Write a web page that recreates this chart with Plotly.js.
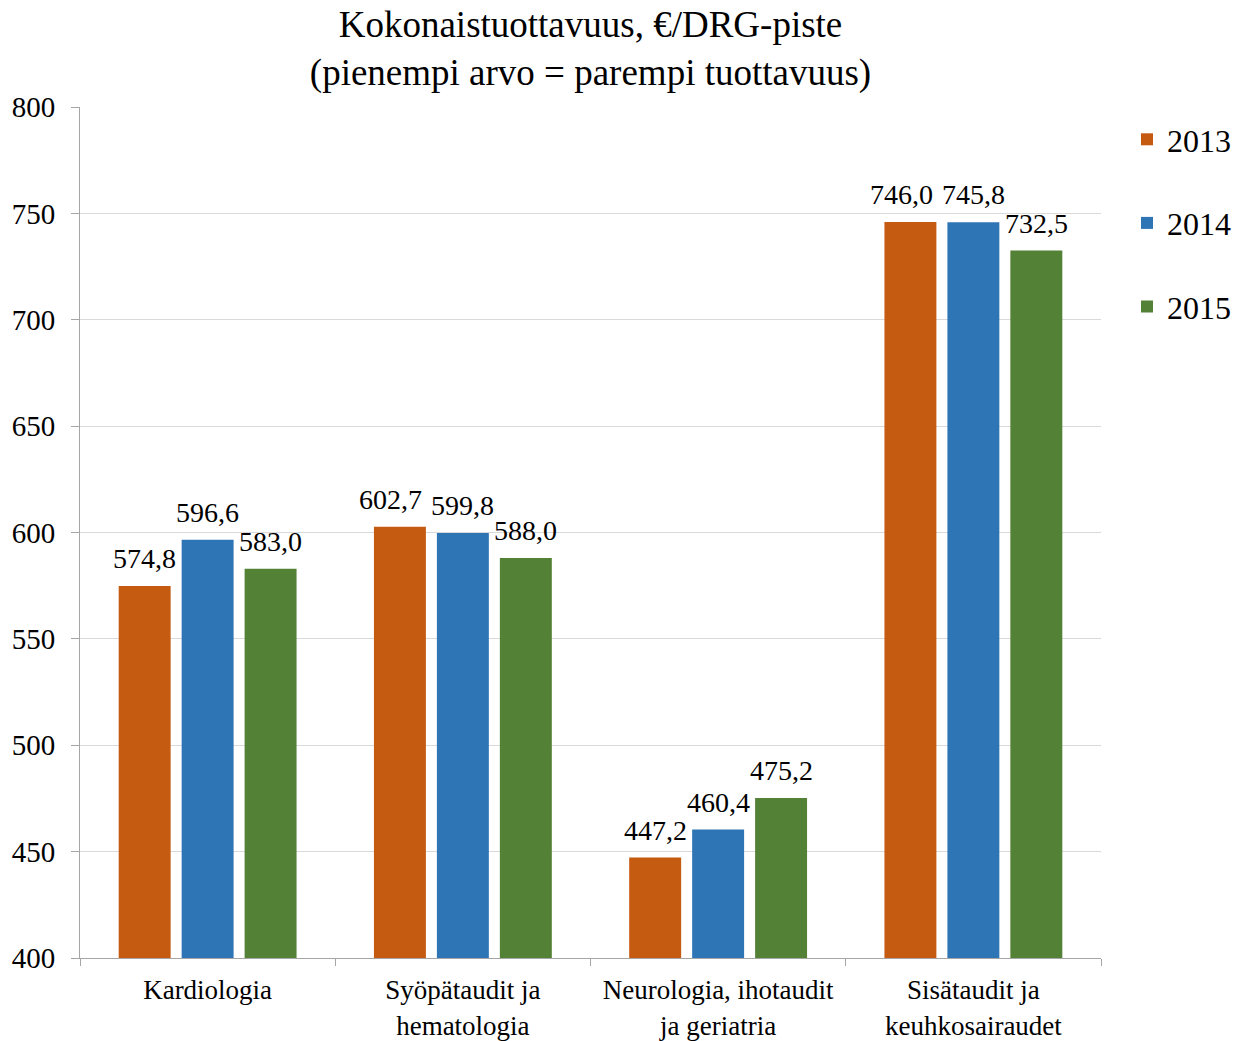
<!DOCTYPE html>
<html>
<head>
<meta charset="utf-8">
<script src="https://cdn.plot.ly/plotly-3.0.1.min.js"></script>
<style>
  html, body { margin: 0; padding: 0; background: #fff; }
  #chart { width: 1234px; height: 1041px; }
</style>
</head>
<body>
<div id="chart"></div>
<script>
// Erikoisalat (x-akselin luokat)
const categories = [
  "Kardiologia",
  "Syöpätaudit ja<br>hematologia",
  "Neurologia, ihotaudit<br>ja geriatria",
  "Sisätaudit ja<br>keuhkosairaudet"
];

// Kokonaistuottavuus, €/DRG-piste vuosittain
const years = ["2013", "2014", "2015"];
const values2013 = [574.8, 602.7, 447.2, 746.0];
const values2014 = [596.6, 599.8, 460.4, 745.8];
const values2015 = [583.0, 588.0, 475.2, 732.5];

const seriesValues = [values2013, values2014, values2015];
const seriesColors = ["#C55A11", "#2E75B6", "#538135"];

const FONT = "'Liberation Serif', 'Times New Roman', serif";
const BARGAP = 0.26;
const GROUPGAP = 0.175;

const traces = years.map((yr, i) => ({
  type: "bar",
  name: yr,
  x: categories,
  y: seriesValues[i],
  legendgroup: yr,
  marker: { color: seriesColors[i], line: { width: 0 } },
  hoverinfo: "x+y+name"
}));

// Arvotunnisteet palkkien yläpuolelle; palkin keskikohta lasketaan ryhmän asettelusta
const fmt = v => v.toFixed(1).replace(".", ",");
const slot = (1 - BARGAP) / years.length;
const annotations = [];
seriesValues.forEach((vals, s) => {
  vals.forEach((v, c) => {
    // siirretään tunnistetta vasemmalle, jos viereinen tunniste on lähes samalla korkeudella
    const next = seriesValues[s + 1];
    const prev = seriesValues[s - 1];
    let shift = 0;
    if (next && Math.abs(next[c] - v) < 6 && !(prev && Math.abs(prev[c] - v) < 6)) shift = -9;
    annotations.push({
      x: c + (s - (years.length - 1) / 2) * slot,
      y: v,
      xref: "x",
      yref: "y",
      text: fmt(v),
      showarrow: false,
      xanchor: "center",
      yanchor: "bottom",
      xshift: shift,
      yshift: 10,
      font: { family: FONT, size: 28, color: "#000" }
    });
  });
});

const layout = {
  width: 1234,
  height: 1041,
  paper_bgcolor: "#fff",
  plot_bgcolor: "#fff",
  font: { family: FONT, color: "#000" },
  margin: { l: 80, r: 133, t: 107, b: 83, pad: 0, autoexpand: false },
  title: {
    text: "Kokonaistuottavuus, €/DRG-piste<br>(pienempi arvo = parempi tuottavuus)",
    font: { family: FONT, size: 37, color: "#000" },
    x: 0.5,
    xanchor: "center",
    xref: "paper",
    yref: "container",
    y: 1 - 37 / 1041,
    yanchor: "middle"
  },
  barmode: "group",
  bargap: BARGAP,
  bargroupgap: GROUPGAP,
  xaxis: {
    type: "category",
    showline: true,
    linecolor: "#a6a6a6",
    linewidth: 1,
    ticks: "outside",
    tickson: "boundaries",
    ticklen: 7,
    tickcolor: "#a6a6a6",
    ticklabelstandoff: 8,
    tickfont: { family: FONT, size: 27, color: "#000" },
    showgrid: false,
    zeroline: false
  },
  yaxis: {
    range: [400, 800],
    dtick: 50,
    tick0: 400,
    showline: true,
    linecolor: "#a6a6a6",
    linewidth: 1,
    ticks: "outside",
    ticklen: 8,
    tickcolor: "#a6a6a6",
    ticklabelstandoff: 10,
    tickfont: { family: FONT, size: 29, color: "#000" },
    showgrid: true,
    gridcolor: "#d9d9d9",
    gridwidth: 1,
    zeroline: false
  },
  annotations: annotations,
  showlegend: true,
  legend: {
    x: (1127 - 80) / 1021,
    xanchor: "left",
    y: 1 - 5 / 851,
    yanchor: "top",
    font: { family: FONT, size: 32, color: "#000" },
    tracegroupgap: 39,
    bgcolor: "rgba(0,0,0,0)"
  }
};

Plotly.newPlot("chart", traces, layout, { displayModeBar: false, staticPlot: true });
</script>
</body>
</html>
